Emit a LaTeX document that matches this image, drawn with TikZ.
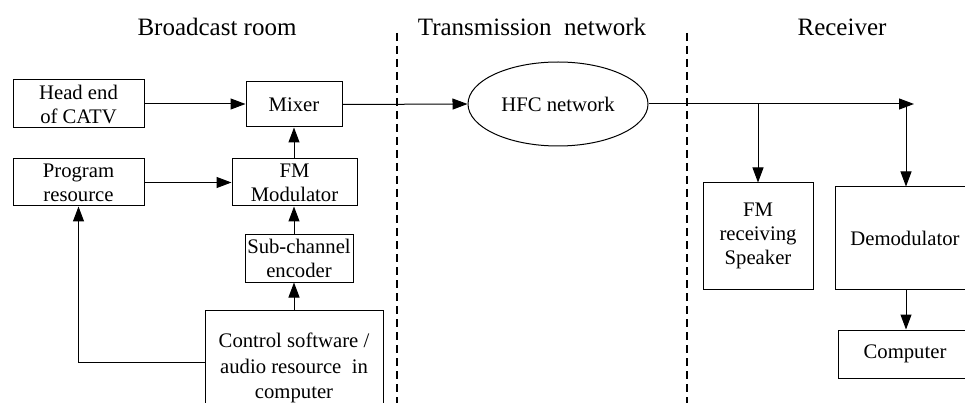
\documentclass[tikz,border=0pt]{standalone}
\usepackage{fontspec}
\setmainfont{Liberation Serif}
\usetikzlibrary{arrows.meta,shapes.geometric}
\begin{document}
\begin{tikzpicture}[x=1pt,y=-1pt,
  box/.style={draw,line width=1pt,inner sep=0pt,align=center,font=\fontsize{20.7}{24}\selectfont},
  heading/.style={inner sep=0pt,font=\fontsize{25}{30}\selectfont},
  arr/.style={line width=1pt,-{Triangle[length=15pt,width=11pt]}},
  conn/.style={line width=1pt},
  divider/.style={line width=1.8pt,dash pattern=on 8pt off 5pt}]
\clip (0,0) rectangle (965,403);
\fill[white] (0,0) rectangle (965,403);
% headings
\node[heading] (h1) at (217,27) {Broadcast room};
\node[heading] (h2) at (532,27) {Transmission\ \ network};
\node[heading] (h3) at (842,27) {Receiver};
% dividers
\coordinate (d1t) at (397,33);
\coordinate (d1b) at (397,405);
\coordinate (d2t) at (687,33);
\coordinate (d2b) at (687,405);
\draw[divider] (d1t) -- (d1b);
\draw[divider] (d2t) -- (d2b);
% boxes
\node[box,minimum width=131pt,minimum height=48pt] (head) at (78.5,104) {Head end\\of CATV};
\node[box,minimum width=96pt,minimum height=45pt] (mix) at (294,104.5) {Mixer};
\node[box,minimum width=131pt,minimum height=47pt] (prog) at (78.5,182.5) {Program\\resource};
\node[box,minimum width=125pt,minimum height=47pt] (fm) at (294.5,182.5) {FM\\Modulator};
\node[box,minimum width=108pt,minimum height=48pt] (sub) at (299,258) {Sub-channel\\encoder};
\node[box,minimum width=178pt,minimum height=116pt,font=\fontsize{20.7}{25.5}\selectfont] (ctrl) at (294,368) {Control software /\\audio resource\ \ in\\computer};
\node[box,ellipse,minimum width=180pt,minimum height=84pt] (hfc) at (558,104) {HFC network};
\node[box,minimum width=110pt,minimum height=106pt] (fmr) at (758,236) {FM\\receiving\\Speaker};
\node[box,minimum width=140pt,minimum height=102pt] (dem) at (905,238) {Demodulator};
\node[box,minimum width=134pt,minimum height=48pt] (comp) at (905,354) {Computer};
% connectors
\draw[arr] (head.east) -- (mix.west |- head.east);
\draw[arr] (fm.north -| mix.south) -- (mix.south);
\draw[arr] (prog.east) -- (fm.west |- prog.east);
\draw[arr] (sub.north -| mix.south) -- (fm.south -| mix.south);
\draw[arr] (ctrl.north) -- (sub.south -| ctrl.north);
\draw[arr] ([yshift=6pt]ctrl.west) -| (prog.south);
\draw[arr] (mix.east) -- (hfc.west);
\coordinate (tip) at (914,104);
\coordinate (b1) at (fmr.north |- hfc.east);
\coordinate (b2) at (906,104);
\draw[arr] (hfc.east) -- (tip);
\draw[arr] (b1) -- (fmr.north);
\draw[arr] (b2) -- (b2 |- dem.north);
\draw[arr] (dem.south -| b2) -- (comp.north -| b2);
\end{tikzpicture}
\end{document}
